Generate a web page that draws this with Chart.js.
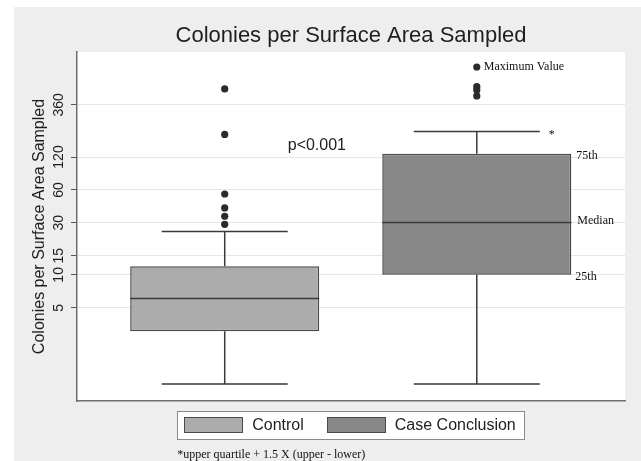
<!DOCTYPE html>
<html lang="en">
<head>
<meta charset="UTF-8">
<title>Colonies per Surface Area Sampled</title>
<script src="https://cdn.jsdelivr.net/npm/chart.js"></script>
<style>
    html, body { margin: 0; padding: 0; background: #ffffff; }
    #panel {
        position: absolute;
        left: 14px;
        top: 7px;
        width: 627px;
        height: 454px;
        background: #eeeeee;
        overflow: hidden;
    }
    #chart { position: absolute; left: 0; top: 0; }
    #legendWrap {
        position: absolute;
        display: flex;
        justify-content: center;
    }
    .legend-frame {
        display: flex;
        align-items: center;
        height: 27px;
        padding: 0 8px 0 6px;
        background: #ffffff;
        border: 1px solid #8a8a8a;
        font: 16px "Liberation Sans", Arial, sans-serif;
        color: #1e1e1e;
    }
    .legend-item { display: flex; align-items: center; }
    .legend-item + .legend-item { margin-left: 23px; }
    .swatch {
        display: inline-block;
        width: 57px;
        height: 14px;
        border: 1px solid #4a4a4a;
        margin-right: 9px;
    }
    .footnote {
        margin-top: 7px;
        font: 12px "Liberation Serif", "Times New Roman", serif;
        color: #111;
    }
</style>
</head>
<body>
<div id="panel">
    <canvas id="chart" width="627" height="454"></canvas>
    <div id="legendWrap">
        <div>
            <div class="legend-frame" id="legend"></div>
            <div class="footnote">*upper quartile + 1.5 X (upper - lower)</div>
        </div>
    </div>
</div>

<script>
    // data (log scale)
    const categories = ['Control', 'Case Conclusion'];
    const xPos = [1, 2];
    const whiskerLow = [1.0, 1.0];
    const q1 = [3.04, 10.0];
    const median = [6.06, 30.1];
    const q3 = [12.0, 128.5];
    const whiskerHigh = [24.9, 205];
    const outliers = [
        [29, 34.4, 41, 55, 193, 504],
        [435, 493, 529, 800]
    ];
    const yTicks = [5, 10, 15, 30, 60, 120, 360];
    const pValueText = 'p<0.001';
    const pValueAt = { x: 1.25, y: 152 };

    const boxColors = ['#acacac', '#888888'];
    const BOX_W = 0.75;   // box width, in x units
    const CAP_W = 0.5;    // whisker cap width, in x units
    const SANS = '"Liberation Sans", Arial, sans-serif';
    const SERIF = '"Liberation Serif", "Times New Roman", serif';

    Chart.defaults.font.family = SANS;

    // boxes as floating bars
    const boxSets = categories.map((name, i) => ({
        type: 'bar',
        label: name,
        data: [{ x: xPos[i], y: [q1[i], q3[i]] }],
        backgroundColor: boxColors[i],
        borderColor: '#4a4a4a',
        borderWidth: 1.5,
        borderSkipped: false,
        grouped: false,
        barPercentage: BOX_W,
        categoryPercentage: 1,
        order: 2
    }));

    // whiskers, caps and medians as broken line segments
    const segs = [];
    xPos.forEach((x, i) => {
        const gap = { x: x, y: null };
        segs.push({ x: x, y: q3[i] }, { x: x, y: whiskerHigh[i] }, gap);
        segs.push({ x: x - CAP_W / 2, y: whiskerHigh[i] }, { x: x + CAP_W / 2, y: whiskerHigh[i] }, gap);
        segs.push({ x: x, y: q1[i] }, { x: x, y: whiskerLow[i] }, gap);
        segs.push({ x: x - CAP_W / 2, y: whiskerLow[i] }, { x: x + CAP_W / 2, y: whiskerLow[i] }, gap);
        segs.push({ x: x - BOX_W / 2, y: median[i] }, { x: x + BOX_W / 2, y: median[i] }, gap);
    });

    const outlierPts = [];
    outliers.forEach((arr, i) => arr.forEach(v => outlierPts.push({ x: xPos[i], y: v })));

    // white plot area
    const plotBg = {
        id: 'plotBg',
        beforeDraw(chart) {
            const a = chart.chartArea;
            const ctx = chart.ctx;
            ctx.save();
            ctx.fillStyle = '#ffffff';
            ctx.fillRect(a.left, a.top, a.right - a.left, a.bottom - a.top);
            ctx.restore();
        }
    };

    // text notes tied to the data
    const notes = {
        id: 'notes',
        afterDatasetsDraw(chart) {
            const ctx = chart.ctx;
            const xs = chart.scales.x, ys = chart.scales.y;
            const c = 1; // case column
            const boxRight = xs.getPixelForValue(xPos[c] + BOX_W / 2);
            ctx.save();
            ctx.textBaseline = 'middle';
            ctx.textAlign = 'left';

            ctx.fillStyle = '#1e1e1e';
            ctx.font = '16px ' + SANS;
            ctx.fillText(pValueText, xs.getPixelForValue(pValueAt.x), ys.getPixelForValue(pValueAt.y));

            ctx.fillStyle = '#111';
            ctx.font = '12px ' + SERIF;
            const maxV = Math.max(...outliers[c]);
            ctx.fillText('Maximum Value', xs.getPixelForValue(xPos[c]) + 7, ys.getPixelForValue(maxV));
            ctx.fillText('*', xs.getPixelForValue(xPos[c] + CAP_W / 2) + 9, ys.getPixelForValue(whiskerHigh[c]) + 3);
            ctx.fillText('75th', boxRight + 5, ys.getPixelForValue(q3[c]) + 2);
            ctx.fillText('Median', boxRight + 6, ys.getPixelForValue(median[c]) - 2);
            ctx.fillText('25th', boxRight + 4, ys.getPixelForValue(q1[c]) + 2);
            ctx.restore();
        }
    };

    const chart = new Chart(document.getElementById('chart'), {
        type: 'bar',
        data: {
            datasets: [
                ...boxSets,
                {
                    type: 'line',
                    label: 'whiskers',
                    data: segs,
                    borderColor: '#3a3a3a',
                    borderWidth: 1.5,
                    pointRadius: 0,
                    spanGaps: false,
                    fill: false,
                    order: 1
                },
                {
                    type: 'scatter',
                    label: 'outliers',
                    data: outlierPts,
                    pointRadius: 3.6,
                    pointBackgroundColor: '#2b2b2b',
                    pointBorderWidth: 0,
                    order: 0
                }
            ]
        },
        options: {
            responsive: false,
            animation: false,
            layout: { padding: { left: 0, right: 16, top: 0, bottom: 60 } },
            plugins: {
                legend: { display: false },
                tooltip: { enabled: false },
                title: {
                    display: true,
                    text: 'Colonies per Surface Area Sampled',
                    fullSize: false,
                    color: '#1e1e1e',
                    font: { size: 22, weight: 'normal' },
                    padding: { top: 15.8, bottom: 2.8 }
                }
            },
            scales: {
                x: {
                    type: 'linear',
                    offset: false,
                    min: 0.414,
                    max: 2.588,
                    afterBuildTicks: s => { s.ticks = xPos.map(v => ({ value: v })); },
                    ticks: { display: false },
                    grid: { display: false, drawTicks: false, offset: false },
                    border: { display: true, color: '#6e6e6e', width: 1.5 }
                },
                y: {
                    type: 'logarithmic',
                    min: 0.713,
                    max: 1098,
                    afterBuildTicks: s => { s.ticks = yTicks.map(v => ({ value: v })); },
                    afterFit: s => { s.width = 63; },
                    ticks: {
                        autoSkip: false,
                        minRotation: 90,
                        maxRotation: 90,
                        crossAlign: 'center',
                        padding: 0,
                        color: '#1e1e1e',
                        font: { size: 14 },
                        callback: v => String(v)
                    },
                    grid: { color: '#e6e6e6', tickColor: '#555555', tickLength: 6, lineWidth: 1 },
                    border: { color: '#6e6e6e', width: 1.5 },
                    title: {
                        display: true,
                        text: 'Colonies per Surface Area Sampled',
                        color: '#1e1e1e',
                        font: { size: 16 },
                        padding: { top: 16.4, bottom: 0 }
                    }
                }
            }
        },
        plugins: [plotBg, notes]
    });

    // legend built from the box datasets
    const legend = document.getElementById('legend');
    chart.data.datasets.filter(d => d.type === 'bar').forEach(d => {
        const item = document.createElement('div');
        item.className = 'legend-item';
        const sw = document.createElement('span');
        sw.className = 'swatch';
        sw.style.background = d.backgroundColor;
        const label = document.createElement('span');
        label.textContent = d.label;
        item.appendChild(sw);
        item.appendChild(label);
        legend.appendChild(item);
    });
    const area = chart.chartArea;
    const wrap = document.getElementById('legendWrap');
    wrap.style.left = area.left + 'px';
    wrap.style.width = (area.right - area.left) + 'px';
    wrap.style.top = (area.bottom + 9.7) + 'px';
</script>
</body>
</html>
